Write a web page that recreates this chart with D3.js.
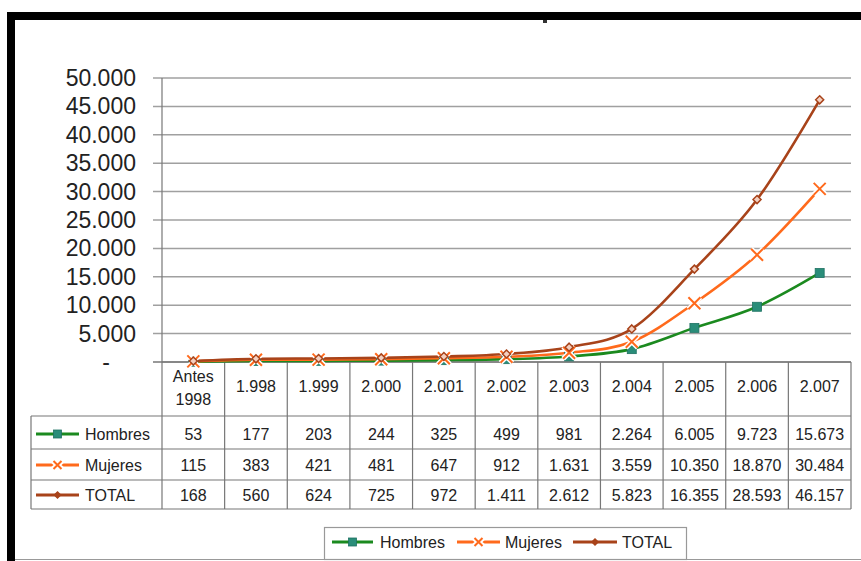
<!DOCTYPE html>
<html>
<head>
<meta charset="utf-8">
<script src="https://d3js.org/d3.v7.min.js"></script>
<style>
body { margin: 0; background: #fff; }
svg { display: block; font-family: "Liberation Sans", Arial, sans-serif; }
</style>
</head>
<body>
<script>
var categories = ["Antes 1998", "1.998", "1.999", "2.000", "2.001", "2.002", "2.003", "2.004", "2.005", "2.006", "2.007"];
var hombres = [53, 177, 203, 244, 325, 499, 981, 2264, 6005, 9723, 15673];
var mujeres = [115, 383, 421, 481, 647, 912, 1631, 3559, 10350, 18870, 30484];
var total = [168, 560, 624, 725, 972, 1411, 2612, 5823, 16355, 28593, 46157];
var yTicks = [0, 5000, 10000, 15000, 20000, 25000, 30000, 35000, 40000, 45000, 50000];

var series = [
    {name: "Hombres", values: hombres, color: "#1b8a1f", marker: "square"},
    {name: "Mujeres", values: mujeres, color: "#ff6a1c", marker: "cross"},
    {name: "TOTAL", values: total, color: "#a8431a", marker: "diamond"}
];

var w = 861;
var h = 561;

var es = d3.formatLocale({decimal: ",", thousands: ".", grouping: [3], currency: ["", ""]});
var fmt = es.format(",d");

var svg = d3.select("body").append("svg")
    .attr("width", w)
    .attr("height", h);

// frame
svg.append("rect").attr("x", 7).attr("y", 12).attr("width", w - 7).attr("height", 8).attr("fill", "#000");
svg.append("rect").attr("x", 7).attr("y", 12).attr("width", 8).attr("height", h - 12).attr("fill", "#000");
svg.append("rect").attr("x", 543).attr("y", 20).attr("width", 4).attr("height", 3).attr("fill", "#333");
svg.append("line").attr("x1", 15).attr("x2", w).attr("y1", 559.5).attr("y2", 559.5)
    .attr("stroke", "#999").attr("stroke-width", 1);

var x = d3.scaleBand().domain(categories).range([162, 851]);
var y = d3.scaleLinear().domain([0, 50000]).range([362, 78]);

function cx(i) { return x(categories[i]) + x.bandwidth() / 2; }

// gridlines
svg.append("g").selectAll("line")
    .data(yTicks)
    .enter().append("line")
    .attr("x1", 153).attr("x2", 851)
    .attr("y1", function(d) { return y(d); })
    .attr("y2", function(d) { return y(d); })
    .attr("stroke", function(d) { return d == 0 ? "#777" : "#a0a0a0"; })
    .attr("stroke-width", 1.5);

// y labels
svg.append("g").selectAll("text")
    .data(yTicks)
    .enter().append("text")
    .attr("x", function(d) { return d == 0 ? 106 : 136; })
    .attr("y", function(d) { return y(d) + 8; })
    .attr("text-anchor", function(d) { return d == 0 ? "middle" : "end"; })
    .attr("font-size", 23)
    .attr("fill", "#222")
    .text(function(d) { return d == 0 ? "-" : fmt(d); });

// table
var rowTop = 362;
var rowLines = [416, 449, 480, 509];
var tbl = svg.append("g").attr("stroke", "#777").attr("stroke-width", 1.2);
var colEdges = categories.map(function(c) { return x(c); }).concat([851]);
tbl.selectAll("line.v")
    .data(colEdges)
    .enter().append("line")
    .attr("class", "v")
    .attr("x1", function(d) { return d; }).attr("x2", function(d) { return d; })
    .attr("y1", function(d, i) { return i == 0 ? 78 : rowTop; })
    .attr("y2", rowLines[3]);
tbl.selectAll("line.h")
    .data(rowLines)
    .enter().append("line")
    .attr("class", "h")
    .attr("x1", 31).attr("x2", 851)
    .attr("y1", function(d) { return d; }).attr("y2", function(d) { return d; });
tbl.append("line").attr("x1", 31).attr("x2", 31).attr("y1", rowLines[0]).attr("y2", rowLines[3]);
tbl.append("line").attr("x1", 162).attr("x2", 851).attr("y1", rowTop).attr("y2", rowTop);

// header
var head = svg.append("g").attr("font-size", 16).attr("fill", "#222").attr("text-anchor", "middle");
categories.forEach(function(c, i) {
    var parts = c.split(" ");
    if (parts.length > 1) {
        head.append("text").attr("x", cx(i)).attr("y", 382).text(parts[0]);
        head.append("text").attr("x", cx(i)).attr("y", 405).text(parts[1]);
    } else {
        head.append("text").attr("x", cx(i)).attr("y", 392).text(c);
    }
});

function drawMarker(g, type, color, px, py, legend) {
    if (type == "square") {
        var s = legend ? 8 : 9;
        g.append("rect").attr("x", px - s / 2).attr("y", py - s / 2).attr("width", s).attr("height", s)
            .attr("fill", "#2a8d79").attr("stroke", "#1f7263").attr("stroke-width", 0.8);
    } else if (type == "cross") {
        var r = legend ? 4 : 6;
        var p = "M" + (px - r) + "," + (py - r) + "L" + (px + r) + "," + (py + r) +
                "M" + (px - r) + "," + (py + r) + "L" + (px + r) + "," + (py - r);
        g.append("path").attr("d", p).attr("stroke", "#fff").attr("stroke-width", legend ? 6 : 5);
        g.append("path").attr("d", p).attr("stroke", color).attr("stroke-width", 2).attr("fill", "none");
    } else {
        var d = legend ? 3 : 4;
        g.append("path")
            .attr("d", "M" + px + "," + (py - d) + "L" + (px + d) + "," + py + "L" + px + "," + (py + d) + "L" + (px - d) + "," + py + "Z")
            .attr("fill", legend ? color : "#f3d0c0").attr("stroke", color).attr("stroke-width", 1.5);
    }
}

// table rows
var rowMid = [434, 465, 495];
series.forEach(function(s, k) {
    var g = svg.append("g");
    g.append("line").attr("x1", 36).attr("x2", 79).attr("y1", rowMid[k]).attr("y2", rowMid[k])
        .attr("stroke", s.color).attr("stroke-width", 3);
    drawMarker(g, s.marker, s.color, 57.5, rowMid[k], true);
    g.append("text").attr("x", 85).attr("y", rowMid[k] + 6).attr("font-size", 16).attr("fill", "#222").text(s.name);
    g.selectAll("text.v")
        .data(s.values)
        .enter().append("text")
        .attr("class", "v")
        .attr("x", function(d, i) { return cx(i); })
        .attr("y", rowMid[k] + 6)
        .attr("text-anchor", "middle")
        .attr("font-size", 16)
        .attr("fill", "#222")
        .text(function(d) { return fmt(d); });
});

// lines
var line = d3.line()
    .x(function(d, i) { return cx(i); })
    .y(function(d) { return y(d); })
    .curve(d3.curveCardinal.tension(0));

series.forEach(function(s) {
    svg.append("path")
        .datum(s.values)
        .attr("d", line)
        .attr("fill", "none")
        .attr("stroke", s.color)
        .attr("stroke-width", 2.6);
});
series.forEach(function(s) {
    var g = svg.append("g");
    s.values.forEach(function(v, i) {
        drawMarker(g, s.marker, s.color, cx(i), y(v), false);
    });
});

// legend
var lg = svg.append("g");
lg.append("rect").attr("x", 324.5).attr("y", 527.5).attr("width", 362).attr("height", 32)
    .attr("fill", "#fff").attr("stroke", "#999").attr("stroke-width", 1.2);
var legendPos = [{x1: 332, x2: 373, tx: 380}, {x1: 457, x2: 500, tx: 505}, {x1: 573, x2: 617, tx: 622}];
series.forEach(function(s, k) {
    var p = legendPos[k];
    lg.append("line").attr("x1", p.x1).attr("x2", p.x2).attr("y1", 542).attr("y2", 542)
        .attr("stroke", s.color).attr("stroke-width", 3);
    drawMarker(lg, s.marker, s.color, (p.x1 + p.x2) / 2, 542, true);
    lg.append("text").attr("x", p.tx).attr("y", 548).attr("font-size", 16).attr("fill", "#222").text(s.name);
});
</script>
</body>
</html>
